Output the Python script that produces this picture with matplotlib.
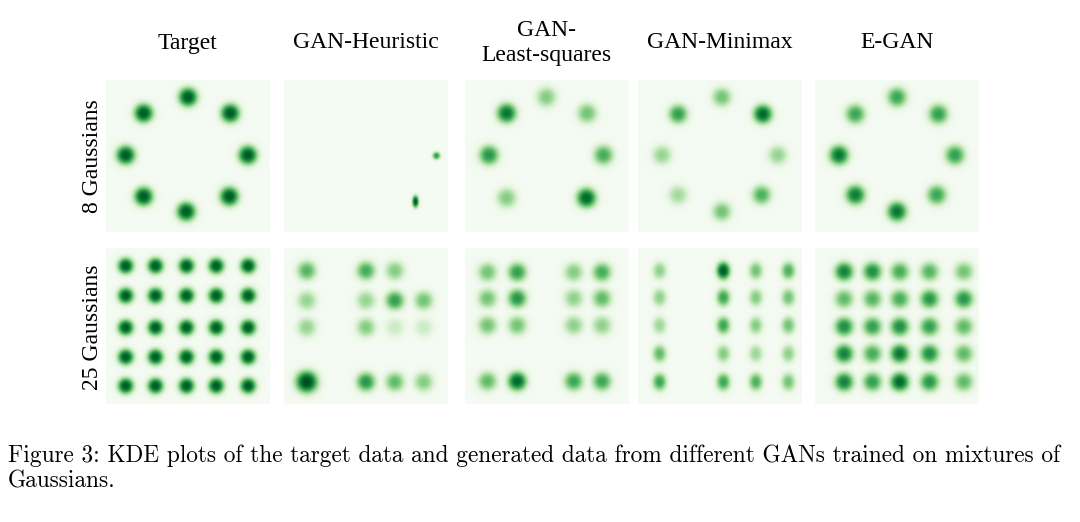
'''
KDE de alvo e de GANs em misturas de Gaussianas (Figura 3).
'''

import numpy as np
import matplotlib.pyplot as plt

W, H = 1080, 522
PX = 30.5  # pixels por unidade

                    # Dados - 8 Gaussianas #
titulos = ['Target', 'GAN-Heuristic', 'GAN-\nLeast-squares', 'GAN-Minimax', 'E-GAN']
linhas = ['8 Gaussians', '25 Gaussians']

alvo8_x = [0.0, -1.46, 1.39, -2.05, 1.97, -1.46, 1.36, -0.06]
alvo8_y = [1.94, 1.41, 1.41, 0.03, 0.03, -1.33, -1.33, -1.83]
alvo8_w = [0.95, 0.95, 0.95, 0.95, 0.95, 0.95, 0.95, 0.95]

heur8_x = [2.32, 1.63]
heur8_y = [0.01, -1.50]
heur8_w = [0.70, 0.95]

ls8_x = [-0.02, -1.33, 1.32, -1.91, 1.86, -1.33, 1.30]
ls8_y = [1.94, 1.41, 1.41, 0.03, 0.03, -1.38, -1.38]
ls8_w = [0.45, 0.85, 0.50, 0.72, 0.62, 0.45, 0.90]

mm8_x = [0.06, -1.38, 1.41, -1.91, 1.90, -1.38, 1.37, 0.06]
mm8_y = [1.94, 1.38, 1.38, 0.03, 0.03, -1.28, -1.28, -1.83]
mm8_w = [0.50, 0.68, 0.90, 0.40, 0.40, 0.36, 0.60, 0.50]

egan8_x = [0.0, -1.37, 1.36, -1.91, 1.91, -1.37, 1.31, 0.0]
egan8_y = [1.94, 1.38, 1.38, 0.03, 0.03, -1.28, -1.28, -1.83]
egan8_w = [0.65, 0.65, 0.68, 0.85, 0.68, 0.82, 0.65, 0.85]

                    # Dados - 25 Gaussianas (grade, 0 = modo ausente) #
alvo25_col = [-2.05, -1.07, -0.05, 0.93, 1.98]
alvo25_lin = [1.98, 1.00, -0.05, -1.02, -1.97]
alvo25_w = [[0.95, 0.95, 0.95, 0.95, 0.95],
            [0.95, 0.95, 0.95, 0.95, 0.95],
            [0.95, 0.95, 0.95, 0.95, 0.95],
            [0.95, 0.95, 0.95, 0.95, 0.95],
            [0.95, 0.95, 0.95, 0.95, 0.95]]

heur25_col = [-1.95, 0.0, 0.95, 1.90]
heur25_lin = [1.82, 0.84, -0.04, -1.84]
heur25_w = [[0.58, 0.62, 0.45, 0.00],
            [0.40, 0.40, 0.68, 0.50],
            [0.40, 0.45, 0.22, 0.22],
            [1.00, 0.72, 0.55, 0.45]]

ls25_col = [-1.96, -0.98, 0.88, 1.81]
ls25_lin = [1.77, 0.91, 0.02, -1.82]
ls25_w = [[0.50, 0.68, 0.45, 0.62],
          [0.50, 0.72, 0.42, 0.55],
          [0.50, 0.50, 0.42, 0.42],
          [0.55, 0.90, 0.65, 0.65]]

mm25_col = [-1.99, 0.11, 1.18, 2.25]
mm25_lin = [1.82, 0.94, 0.02, -0.91, -1.84]
mm25_w = [[0.42, 0.95, 0.50, 0.60],
          [0.42, 0.65, 0.45, 0.50],
          [0.38, 0.65, 0.45, 0.50],
          [0.55, 0.45, 0.38, 0.42],
          [0.65, 0.65, 0.60, 0.50]]

egan25_col = [-1.74, -0.81, 0.09, 1.07, 2.20]
egan25_lin = [1.79, 0.89, -0.02, -0.91, -1.84]
egan25_w = [[0.80, 0.75, 0.62, 0.58, 0.50],
            [0.55, 0.58, 0.62, 0.72, 0.72],
            [0.75, 0.68, 0.75, 0.68, 0.55],
            [0.80, 0.62, 0.85, 0.75, 0.55],
            [0.80, 0.68, 0.90, 0.72, 0.55]]


def grade(cols, lins, pesos):
    xs, ys, ws = [], [], []
    for i, yy in enumerate(lins):
        for j, xx in enumerate(cols):
            if pesos[i][j] > 0:
                xs.append(xx)
                ys.append(yy)
                ws.append(pesos[i][j])
    return xs, ys, ws


def densidade(xs, ys, ws, sx, sy, xlim, ylim, n=240):
    gx = np.linspace(-xlim, xlim, n)
    gy = np.linspace(-ylim, ylim, n)
    X, Y = np.meshgrid(gx, gy)
    Z = np.zeros_like(X)
    for k in range(len(xs)):
        s_x = sx[k] if isinstance(sx, list) else sx
        s_y = sy[k] if isinstance(sy, list) else sy
        d2 = (X - xs[k]) ** 2 / s_x ** 2 + (Y - ys[k]) ** 2 / s_y ** 2
        Z = np.maximum(Z, ws[k] * np.exp(-0.5 * d2 ** 1.3))
    return Z


paineis8 = [(alvo8_x, alvo8_y, alvo8_w, 0.25, 0.25),
            (heur8_x, heur8_y, heur8_w, [0.10, 0.085], [0.10, 0.16]),
            (ls8_x, ls8_y, ls8_w, 0.26, 0.26),
            (mm8_x, mm8_y, mm8_w, 0.25, 0.25),
            (egan8_x, egan8_y, egan8_w, 0.26, 0.26)]

h25 = grade(heur25_col, heur25_lin, heur25_w)
sig_h25 = [0.29 if w >= 1.0 else 0.25 for w in h25[2]]
paineis25 = [(*grade(alvo25_col, alvo25_lin, alvo25_w), 0.21, 0.21),
             (*h25, sig_h25, sig_h25),
             (*grade(ls25_col, ls25_lin, ls25_w), 0.25, 0.25),
             (*grade(mm25_col, mm25_lin, mm25_w), 0.18, 0.23),
             (*grade(egan25_col, egan25_lin, egan25_w), 0.25, 0.25)]

                    # Layout (pixels) #
centros_x = [187.5, 366, 546.5, 720, 896.7]
larg = 164
linhas_y = [(80, 232), (248, 404)]

fig = plt.figure(figsize=(W / 100, H / 100), dpi=100)
fig.patch.set_facecolor('white')

for r, paineis in enumerate([paineis8, paineis25]):
    topo, base = linhas_y[r]
    alt = base - topo
    xlim = larg / 2 / PX
    ylim = alt / 2 / PX
    for c, (xs, ys, ws, sx, sy) in enumerate(paineis):
        esq = centros_x[c] - larg / 2
        ax = fig.add_axes([esq / W, 1 - base / H, larg / W, alt / H])
        Z = densidade(xs, ys, ws, sx, sy, xlim, ylim)
        ax.imshow(Z, cmap='Greens', vmin=-0.02, vmax=1.02, origin='lower',
                  extent=[-xlim, xlim, -ylim, ylim], aspect='auto',
                  interpolation='bilinear')
        ax.set_axis_off()

serif = ['Liberation Serif', 'DejaVu Serif']
for c, t in enumerate(titulos):
    fig.text(centros_x[c] / W, 1 - 43 / H, t, ha='center', va='center',
             fontsize=17, family=serif, linespacing=1.25)

fig.text(92 / W, 1 - 156 / H, linhas[0], rotation=90, ha='center', va='center',
         fontsize=17, family=serif)
fig.text(92 / W, 1 - 327 / H, linhas[1], rotation=90, ha='center', va='center',
         fontsize=17, family=serif)

legenda = ('Figure 3: KDE plots of the target data and generated data from different '
           'GANs trained on mixtures of')
fig.text(8 / W, 1 - 456 / H, legenda, ha='left', va='center', fontsize=16.8,
         family=['cmr10', 'DejaVu Serif'])
fig.text(8 / W, 1 - 481 / H, 'Gaussians.', ha='left', va='center', fontsize=16.8,
         family=['cmr10', 'DejaVu Serif'])

fig.savefig('out.png', dpi=100, facecolor='white')
